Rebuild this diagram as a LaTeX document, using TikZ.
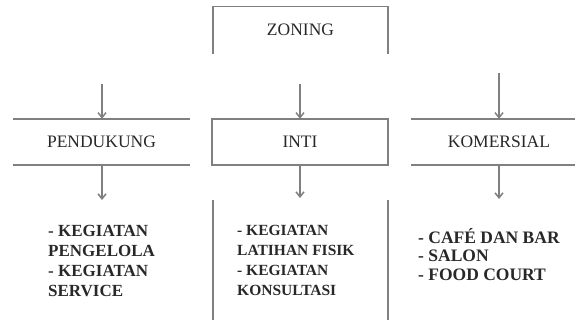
\documentclass[tikz,border=0pt]{standalone}
\usepackage{fontspec}
\setmainfont{Liberation Serif}
\usetikzlibrary{arrows.meta}
\definecolor{edge}{RGB}{128,128,128}
\definecolor{ink}{RGB}{40,40,40}
\tikzset{
  ln/.style={draw=edge, line width=1.5pt},
  arr/.style={ln, -{Straight Barb[length=5pt,width=8pt]}},
  hdr/.style={inner sep=0pt, text=ink, font=\fontsize{17.5}{20}\selectfont},
  txt/.style={inner sep=0pt, text=ink, align=left, anchor=north west, font=\fontsize{15}{20}\selectfont\bfseries},
  frame/.style={inner sep=0pt, draw=none}
}
\begin{document}
\begin{tikzpicture}[x=1pt,y=-1pt]
\useasboundingbox (0,0) rectangle (575,322);
% frames (invisible nodes used as anchors)
\node[frame, minimum width=175pt, minimum height=47pt] (zf) at (300.5,30) {};
\node[frame, minimum width=177pt, minimum height=46pt] (pf) at (101.5,142) {};
\node[frame, minimum width=176pt, minimum height=46pt] (if) at (300,142) {};
\node[frame, minimum width=164pt, minimum height=46pt] (kf) at (493,142) {};
\node[frame, minimum width=175pt, minimum height=120pt] (ic) at (300.5,260) {};
% texts
\node[hdr] (zoning) at (zf.center) {ZONING};
\node[hdr] (pend) at (pf.center) {PENDUKUNG};
\node[hdr] (inti) at (if.center) {INTI};
\node[hdr] (kom) at (499,142) {KOMERSIAL};
\node[txt, font=\fontsize{17}{20}\selectfont\bfseries] (pt) at (48,225) {- KEGIATAN\\PENGELOLA\\- KEGIATAN\\SERVICE};
\node[txt, font=\fontsize{15.5}{20}\selectfont\bfseries] (it) at (237,225) {- KEGIATAN\\LATIHAN FISIK\\- KEGIATAN\\KONSULTASI};
\node[txt, font=\fontsize{17.5}{18.5}\selectfont\bfseries] (kt) at (418,228) {- CAF\'E DAN BAR\\- SALON\\- FOOD COURT};
% box edges
\draw[ln] (zf.south west) -- (zf.north west) -- (zf.north east) -- (zf.south east);
\draw[ln] (pf.north west) -- (pf.north east);
\draw[ln] (pf.south west) -- (pf.south east);
\draw[ln] (if.north west) rectangle (if.south east);
\draw[ln] (kf.north west) -- (kf.north east);
\draw[ln] (kf.south west) -- (kf.south east);
\draw[ln] (ic.north west) -- (ic.south west);
\draw[ln] (ic.north east) -- (ic.south east);
% connectors
\coordinate (z1) at (102,84);
\coordinate (z2) at (300,84);
\coordinate (z3) at (499,73);
\draw[arr] (z1) -- (pf.north west -| z1);
\draw[arr] (z2) -- (if.north);
\draw[arr] (z3) -- (kf.north west -| z3);
\coordinate (c1) at (102,200);
\coordinate (c2) at (300,198);
\coordinate (c3) at (499,199);
\draw[arr] (pf.south west -| c1) -- (c1);
\draw[arr] (if.south) -- (c2);
\draw[arr] (kf.south west -| c3) -- (c3);
\end{tikzpicture}
\end{document}
